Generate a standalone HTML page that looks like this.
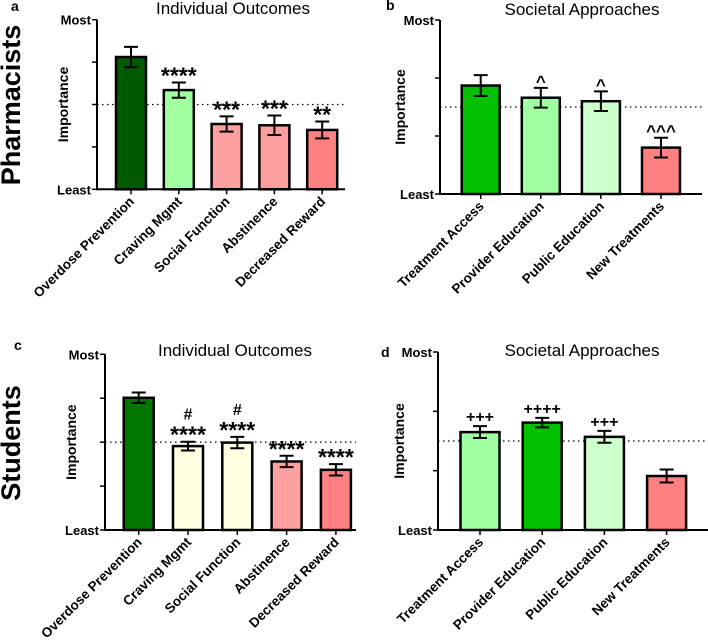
<!DOCTYPE html>
<html><head><meta charset="utf-8"><style>
body{margin:0;background:#fff;width:708px;height:639px;overflow:hidden}
svg{font-family:"Liberation Sans",Arial,sans-serif}
</style></head><body>
<svg id="c" width="708" height="639"></svg>
<script>
const catsInd = ["Overdose Prevention","Craving Mgmt","Social Function","Abstinence","Decreased Reward"];
const catsSoc = ["Treatment Access","Provider Education","Public Education","New Treatments"];
const valsA = [3.12,2.34,1.54,1.51,1.40];
const errA = [0.24,0.18,0.18,0.23,0.20];
const annA = ["","****","***","***","**"];
const valsB = [1.87,1.66,1.60,0.80];
const errB = [0.18,0.17,0.17,0.17];
const annB = ["","^","^","^^^"];
const valsC = [3.01,1.91,1.99,1.56,1.37];
const errC = [0.12,0.10,0.13,0.13,0.13];
const annC = ["","#\n****","#\n****","****","****"];
const valsD = [1.65,1.81,1.57,0.91];
const errD = [0.10,0.08,0.10,0.11];
const annD = ["+++","++++","+++",""];
const colA = ["#005a00","#a0ffa0","#ffa0a0","#ffa0a0","#ff8080"];
const colB = ["#00c000","#a0ffa0","#ccffcc","#ff8080"];
const colC = ["#007800","#fffee0","#fffee0","#ffa0a0","#ff8080"];
const colD = ["#a0ffa0","#00c000","#ccffcc","#ff8080"];
const NS="http://www.w3.org/2000/svg", svg=document.getElementById('c');
function el(t,a,p){const e=document.createElementNS(NS,t);for(const k in a)e.setAttribute(k,a[k]);(p||svg).appendChild(e);return e;}
function txt(s,a,p){const e=el('text',a,p);e.textContent=s;return e;}
function panel(o){
  const g=el('g',{});
  
  
  const y=v=>o.y0-(v/o.max)*(o.y0-o.y1);
  const x=i=>o.x0+o.first+i*o.step;
  const d=el('line',{x1:o.x0,x2:o.xEnd,y1:y(o.ref),y2:y(o.ref),stroke:'#000','stroke-width':1.2,'stroke-dasharray':'1.5,3.5'},g);
  
  o.vals.forEach((v,i)=>{
    const r=el('rect',{x:x(i)-o.bw/2,y:y(v),width:o.bw,height:o.y0-y(v),fill:o.cols[i],stroke:'#000','stroke-width':2.5},g);
    
    
    const e=o.err[i],c=x(i);
    const eb=el('path',{d:`M${c},${y(v+e)}V${y(v-e)}M${c-7},${y(v+e)}H${c+7}M${c-7},${y(v-e)}H${c+7}`,stroke:'#000','stroke-width':2,fill:'none'},g);
    
    const lines=o.ann[i]?o.ann[i].split('\n'):[];
    let base=y(v+e);
    lines.reverse().forEach((s,k)=>{
      const isStar=s.includes('*'), isCaret=s.includes('^');
      let by, fs;
      if(isStar){fs=23;by=base+1;base=base-18;}
      else if(isCaret){fs=17;by=base-1;base-=16;}
      else {fs=16;by=base-4;base-=18;}
      const t=txt(s,{x:c,y:by,'text-anchor':'middle','font-size':fs,'font-weight':'bold'},g);
      
    });
    el('line',{x1:c,x2:c,y1:o.y0,y2:o.y0+5,stroke:'#000','stroke-width':1.5},g);
    const lab=txt(o.cats[i],{transform:`translate(${c+4},${o.y0+13}) rotate(-45)`,'text-anchor':'end','font-size':13.5,'font-weight':'bold'},g);
    
  });
  const ax=el('path',{d:`M${o.x0},${o.y1}V${o.y0}H${o.xEnd}`,stroke:'#000','stroke-width':2,fill:'none'},g);
  
  for(let k=0;k<=o.max;k++)el('line',{x1:o.x0-5,x2:o.x0,y1:y(k),y2:y(k),stroke:'#000','stroke-width':1.5},g);
  const m=txt('Most',{x:o.x0-6,y:o.y1+5,'text-anchor':'end','font-size':13,'font-weight':'bold'},g);
  
  const l=txt('Least',{x:o.x0-6,y:o.y0+5,'text-anchor':'end','font-size':13,'font-weight':'bold'},g);
  
  const yt=txt('Importance',{transform:`translate(${o.yLabX},${(o.y0+o.y1)/2}) rotate(-90)`,'text-anchor':'middle','font-size':14,'font-weight':'bold'},g);
  
  const ti=txt(o.title,{x:o.titleX,y:o.titleY,'text-anchor':'middle','font-size':17},g);
  
  const le=txt(o.letter,{x:o.lx,y:o.ly,'font-size':14,'font-weight':'bold'},g);
  
}
panel({name:'panel-a',cats:catsInd,vals:valsA,err:errA,ann:annA,cols:colA,max:4,ref:2,x0:97,xEnd:345,y0:189.3,y1:19.7,first:34,step:47.8,bw:30,yLabX:68,title:'Individual Outcomes',titleX:233,titleY:14,letter:'a',lx:11,ly:11});
panel({name:'panel-b',cats:catsSoc,vals:valsB,err:errB,ann:annB,cols:colB,max:3,ref:1.5,x0:440,xEnd:702,y0:194,y1:20,first:40.7,step:60.1,bw:38,yLabX:405,title:'Societal Approaches',titleX:582,titleY:15,letter:'b',lx:386,ly:10});
panel({name:'panel-c',cats:catsInd,vals:valsC,err:errC,ann:annC,cols:colC,max:4,ref:2,x0:105,xEnd:356,y0:530,y1:354.3,first:33.7,step:49.3,bw:30,yLabX:76,title:'Individual Outcomes',titleX:235,titleY:356,letter:'c',lx:14,ly:350});
panel({name:'panel-d',cats:catsSoc,vals:valsD,err:errD,ann:annD,cols:colD,max:3,ref:1.5,x0:438,xEnd:708,y0:530,y1:352,first:42,step:62.2,bw:39,yLabX:404,title:'Societal Approaches',titleX:582,titleY:356,letter:'d',lx:381,ly:357});
const p=txt('Pharmacists',{transform:'translate(20,105) rotate(-90)','text-anchor':'middle','font-size':27,'font-weight':'bold'});

const s=txt('Students',{transform:'translate(20,443) rotate(-90)','text-anchor':'middle','font-size':27,'font-weight':'bold'});

</script>
</body></html>
